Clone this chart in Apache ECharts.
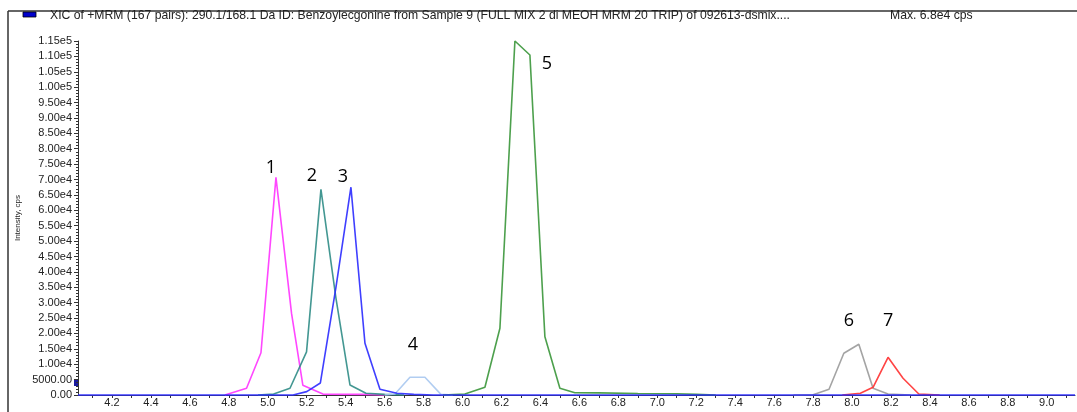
<!DOCTYPE html>
<html>
<head>
<meta charset="utf-8">
<script src="https://cdn.jsdelivr.net/npm/echarts@6/dist/echarts.min.js"></script>
<style>
html,body{margin:0;padding:0;background:#fff;}
#chart{width:1077px;height:412px;}
</style>
</head>
<body>
<div id="chart"></div>
<script>
// ---- data (time in min, intensity in cps) ----
const peak1 = [[4.78,0],[4.891,2180],[4.965,13740],[5.042,70700],[5.122,26500],[5.18,3200],[5.283,300],[5.5,200],[5.6,0]];
const peak2 = [[4.95,0],[5.03,300],[5.114,2200],[5.199,14000],[5.273,66800],[5.35,31500],[5.422,3250],[5.504,550],[5.6,200],[5.7,0]];
const peak3 = [[4.0255,0],[5.13,0],[5.2,1100],[5.27,3900],[5.35,35000],[5.427,67500],[5.499,16800],[5.576,1850],[5.663,550],[5.75,200],[5.85,0],[9.145,0]];
const peak4 = [[5.60,0],[5.653,300],[5.73,5750],[5.807,5750],[5.889,200],[5.95,0]];
const peak5 = [[5.9,0],[6.012,325],[6.115,2500],[6.192,21670],[6.269,115000],[6.346,110460],[6.423,18940],[6.5,2180],[6.577,750],[6.7,700],[6.9,500],[7.1,400],[7.2,200],[7.3,0]];
const peak6 = [[7.7,0],[7.8,100],[7.882,1850],[7.958,13550],[8.035,16470],[8.108,2180],[8.185,325],[8.3,0]];
const peak7 = [[7.95,0],[8.043,550],[8.108,2500],[8.185,12250],[8.262,5430],[8.343,325],[8.45,0]];
const peakNames = ['1','2','3','4','5','6','7'];

const xTickValues = [4.2,4.4,4.6,4.8,5.0,5.2,5.4,5.6,5.8,6.0,6.2,6.4,6.6,6.8,7.0,7.2,7.4,7.6,7.8,8.0,8.2,8.4,8.6,8.8,9.0];
const xTickLabels = ['4.2','4.4','4.6','4.8','5.0','5.2','5.4','5.6','5.8','6.0','6.2','6.4','6.6','6.8','7.0','7.2','7.4','7.6','7.8','8.0','8.2','8.4','8.6','8.8','9.0'];
const yTickLabels = ['0.00','5000.00','1.00e4','1.50e4','2.00e4','2.50e4','3.00e4','3.50e4','4.00e4','4.50e4','5.00e4','5.50e4','6.00e4','6.50e4','7.00e4','7.50e4','8.00e4','8.50e4','9.00e4','9.50e4','1.00e5','1.05e5','1.10e5','1.15e5'];

const titleText = 'XIC of +MRM (167 pairs): 290.1/168.1 Da ID: Benzoylecgonine from Sample 9 (FULL MIX 2 di MEOH MRM 20 TRIP) of 092613-dsmix....';
const maxText = 'Max. 6.8e4 cps';

// ---- chart ----
const xMin = 4.0255, xMax = 9.145;
const minorX = [];
for (let k = 41; k <= 91; k++) minorX.push(k / 10);

const chart = echarts.init(document.getElementById('chart'), null, {renderer:'canvas'});
const txtColor = '#222222';
const seriesDefs = [
  {data: peak1, color:'#ff33ff', off:[-5,-9]},
  {data: peak2, color:'#2f8c86', off:[-9,-13]},
  {data: peak4, color:'#a9c8f0', off:[3,-32]},
  {data: peak5, color:'#3a963a', off:[32,23]},
  {data: peak6, color:'#9a9a9a', off:[-10,-23]},
  {data: peak7, color:'#ff3030', off:[0,-36]},
  {data: peak3, color:'#2a2aff', off:[-8,-10]}
];
const nameIdx = [0,1,3,4,5,6,2];

const option = {
  animation:false,
  backgroundColor:'#ffffff',
  grid:{left:78, right:2, top:41, bottom:17, containLabel:false, outerBoundsMode:'none'},
  xAxis:{
    type:'value', min:xMin, max:xMax,
    name:'Time, min', nameLocation:'middle', nameGap:11,
    nameTextStyle:{color:txtColor, fontSize:11, fontFamily:'Liberation Sans'},
    axisLine:{show:true, onZero:false, lineStyle:{color:'#333', width:1}},
    axisTick:{show:true, customValues:minorX, length:3, lineStyle:{color:'#333'}},
    axisLabel:{show:true, customValues:xTickValues, margin:2, color:txtColor, fontSize:11, fontFamily:'Liberation Sans',
      formatter:(v)=>{const i = xTickValues.findIndex(t=>Math.abs(t-v)<1e-6); return i>=0?xTickLabels[i]:'';}},
    splitLine:{show:false}
  },
  yAxis:{
    type:'value', min:0, max:115000, interval:5000,
    name:'Intensity, cps', nameLocation:'middle', nameGap:56, nameRotate:90,
    nameTextStyle:{color:txtColor, fontSize:8, fontFamily:'Liberation Sans'},
    axisLine:{show:true, lineStyle:{color:'#333', width:1}},
    axisTick:{show:true, length:4, lineStyle:{color:'#333'}},
    minorTick:{show:true, splitNumber:5, length:2, lineStyle:{color:'#333'}},
    axisLabel:{color:txtColor, fontSize:11, fontFamily:'Liberation Sans', margin:6,
      formatter:(v)=>{const i = Math.round(v/5000); return (Math.abs(i*5000-v)<1e-6 && yTickLabels[i]!==undefined)?yTickLabels[i]:'';}},
    splitLine:{show:false}
  },
  series: seriesDefs.map((s, k)=>({
    type:'line', data:s.data, showSymbol:false, symbol:'none', clip:false,
    lineStyle:{color:s.color, width:1.6, opacity:0.9},
    itemStyle:{color:s.color},
    markPoint:{
      symbol:'circle', symbolSize:0, animation:false,
      data:[{type:'max'}],
      label:{show:true, position:'inside', offset:s.off, formatter:peakNames[nameIdx[k]],
        color:'#000', fontSize:18, fontFamily:'Open Sans'}
    }
  })),
  graphic:[
    {type:'line', shape:{x1:8, y1:11, x2:1077, y2:11}, style:{stroke:'#333', lineWidth:1.5}},
    {type:'line', shape:{x1:8, y1:11, x2:8, y2:412}, style:{stroke:'#333', lineWidth:1.5}},
    {type:'rect', shape:{x:23, y:12, width:13, height:5}, style:{fill:'#0000cc', stroke:'#000', lineWidth:0.8}},
    {type:'rect', shape:{x:74, y:380, width:4, height:6}, style:{fill:'#1a1aa0'}},
    {type:'text', x:50, y:16, style:{text:titleText, fill:txtColor, font:'12.2px "Liberation Sans"', textVerticalAlign:'middle'}},
    {type:'text', x:890, y:16, style:{text:maxText, fill:txtColor, font:'12.2px "Liberation Sans"', textVerticalAlign:'middle'}}
  ]
};
chart.setOption(option);
</script>
</body>
</html>
